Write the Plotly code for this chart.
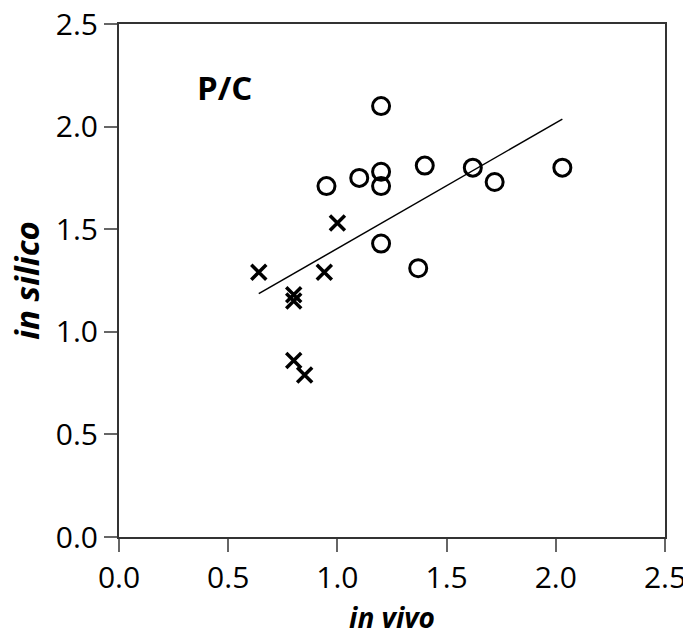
import plotly.graph_objects as go

# circles
circ_x = [1.20, 0.95, 1.10, 1.20, 1.20, 1.40, 1.62, 1.72, 2.03, 1.20, 1.37]
circ_y = [2.10, 1.71, 1.75, 1.78, 1.71, 1.81, 1.80, 1.73, 1.80, 1.43, 1.31]

# crosses
cross_x = [0.64, 1.00, 0.94, 0.80, 0.80, 0.80, 0.85]
cross_y = [1.29, 1.53, 1.29, 1.18, 1.15, 0.86, 0.79]

# trend line
slope = 0.612
intercept = 0.794
all_x = circ_x + cross_x
line_x = [min(all_x), max(all_x)]
line_y = [intercept + slope * v for v in line_x]

fig = go.Figure()
fig.add_trace(go.Scatter(x=line_x, y=line_y, mode="lines",
                         line=dict(color="black", width=1.5)))
fig.add_trace(go.Scatter(x=circ_x, y=circ_y, mode="markers",
                         marker=dict(symbol="circle-open", size=17, color="black",
                                     line=dict(width=3, color="black"))))
fig.add_trace(go.Scatter(x=cross_x, y=cross_y, mode="markers",
                         marker=dict(symbol="x-thin-open", size=15, color="black",
                                     line=dict(width=3.5, color="black"))))

axis_common = dict(range=[0, 2.5], dtick=0.5, tickformat=".1f", automargin=False,
                   showgrid=False, zeroline=False, showline=True, mirror=True,
                   linecolor="#333", linewidth=2, ticks="outside", ticklen=13,
                   tickcolor="#666", tickwidth=1.5, ticklabeloverflow="allow",
                   tickfont=dict(family="Open Sans", size=30, color="black"))

# page body has an 8px margin, so shift the figure margins to compensate
fig.update_layout(
    width=691, height=638, showlegend=False,
    plot_bgcolor="white", paper_bgcolor="white",
    margin=dict(l=111, r=34, t=16, b=109),
    xaxis=dict(axis_common, title=dict(text="<b><i>in vivo</i></b>",
               font=dict(family="Open Sans", size=28, color="black"), standoff=12)),
    yaxis=axis_common,
    annotations=[
        dict(text="<b>P/C</b>", x=0.35, y=2.19, xref="x", yref="y",
             xanchor="left", yanchor="middle", showarrow=False,
             font=dict(family="Open Sans", size=33, color="black")),
        # y title as an annotation so it can sit near the left edge
        dict(text="<b><i>in silico</i></b>", x=-0.17, y=0.5, xref="paper", yref="paper",
             xanchor="center", yanchor="middle", textangle=-90, showarrow=False,
             font=dict(family="Open Sans", size=33, color="black")),
    ],
)

fig.write_html("out.html")
